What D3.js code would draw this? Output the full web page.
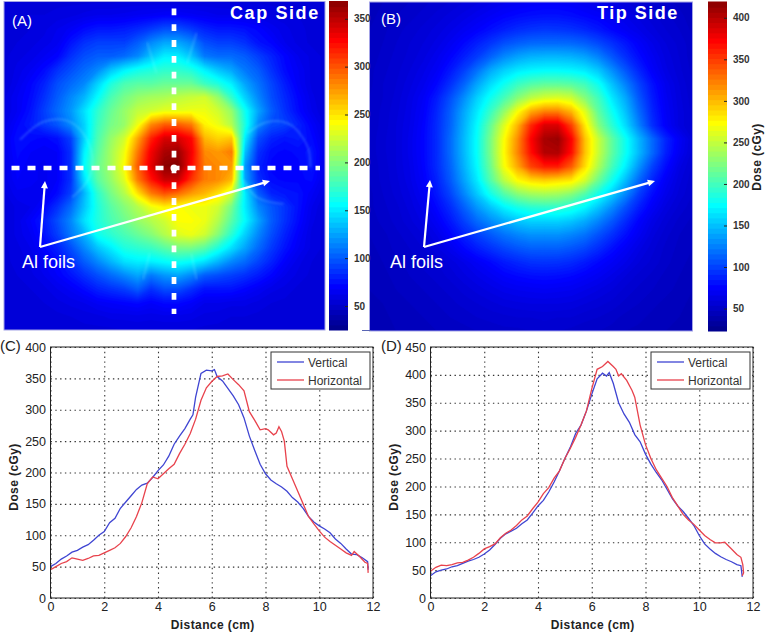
<!DOCTYPE html>
<html>
<head>
<meta charset="utf-8">
<script src="https://cdn.jsdelivr.net/npm/d3@7"></script>
<style>
  html, body { margin: 0; padding: 0; background: #fff; }
  svg { display: block; }
  text { font-family: "Liberation Sans", Arial, sans-serif; }
</style>
</head>
<body>
<div id="chart-area"></div>
<script>
// dose maps, 25 x 25 samples (cGy)
var capDose = [
  [55,55,55,55,55,55,55,55,55,56,56,56,56,56,56,56,56,55,55,55,55,55,55,55,55],
  [55,55,56,56,57,58,60,62,62,63,65,66,68,68,66,64,62,62,61,60,58,57,56,55,55],
  [55,55,56,58,62,66,72,76,76,78,82,88,95,95,88,80,76,76,74,70,64,60,57,55,55],
  [55,56,58,60,64,75,85,90,90,90,100,115,125,125,115,95,90,90,85,75,70,62,58,55,55],
  [55,58,60,65,70,85,95,100,100,105,115,135,150,150,135,110,105,105,100,90,80,70,62,58,55],
  [55,60,65,72,85,95,105,115,135,150,160,165,170,170,165,150,135,125,110,100,85,72,65,58,55],
  [55,62,70,80,95,105,115,140,165,180,185,185,190,190,190,175,165,150,125,108,92,78,66,58,55],
  [58,65,72,85,100,115,130,155,180,195,205,210,212,218,222,225,205,172,140,115,95,82,70,60,55],
  [58,65,75,90,105,120,145,170,190,205,220,225,232,232,235,235,225,205,160,125,100,85,72,62,55],
  [60,70,78,88,98,115,140,175,195,205,235,280,295,295,285,245,235,215,165,115,95,90,80,68,58],
  [62,74,72,70,74,90,140,180,205,225,270,315,340,340,325,265,255,260,150,95,80,75,78,72,60],
  [62,72,68,66,68,85,150,185,210,235,285,330,355,360,330,280,275,285,135,85,72,70,72,76,62],
  [60,70,66,64,68,85,155,190,210,240,295,335,365,368,325,285,280,275,122,80,70,68,70,76,60],
  [60,68,66,64,68,85,145,185,205,230,285,320,345,345,310,285,280,265,125,85,72,70,70,72,60],
  [58,64,64,64,72,90,130,170,195,215,250,285,300,290,275,265,250,225,150,100,80,76,74,66,58],
  [55,60,62,70,85,105,135,165,185,200,215,235,245,240,235,235,225,195,150,115,98,86,74,62,55],
  [55,60,68,78,95,115,145,165,180,192,205,215,225,240,240,235,215,185,155,125,100,85,72,60,55],
  [55,60,65,75,90,110,130,160,170,180,190,200,215,230,235,225,200,170,140,115,95,80,68,58,55],
  [55,58,62,70,80,95,115,135,150,165,170,175,185,195,195,185,165,145,125,105,88,75,65,58,55],
  [55,57,60,65,72,85,100,115,130,145,150,150,155,160,155,145,130,115,105,92,80,68,60,56,55],
  [55,56,58,62,68,75,85,95,105,115,125,110,120,125,115,100,95,90,85,78,70,62,58,55,54],
  [54,55,56,58,62,66,72,80,85,90,100,85,95,95,85,75,75,75,70,65,60,58,55,54,54],
  [54,54,55,56,58,60,62,66,68,70,72,68,72,72,68,62,62,60,60,58,56,55,54,54,54],
  [54,54,54,55,55,56,57,58,60,60,61,60,61,61,60,58,57,56,56,55,55,54,54,54,54],
  [53,53,54,54,54,54,55,55,55,56,56,56,56,56,56,55,55,55,54,54,54,54,54,53,53]
].flat();

var tipDose = [
  [44,46,47,49,51,53,55,58,60,63,66,68,70,71,71,70,67,64,62,58,55,53,50,48,46],
  [45,47,49,51,53,56,59,62,66,70,74,77,79,80,80,78,75,72,68,64,60,56,53,50,47],
  [46,48,51,53,56,59,63,68,73,79,85,90,93,95,94,92,88,82,75,69,64,59,55,52,48],
  [47,49,52,55,58,62,68,76,85,94,104,110,114,115,115,114,110,102,92,82,72,64,58,54,50],
  [47,50,53,56,60,66,74,85,97,112,127,137,143,145,145,143,137,125,108,92,78,68,60,55,50],
  [48,51,54,58,63,70,82,98,118,140,155,165,170,172,172,170,165,152,130,108,88,72,62,56,51],
  [48,52,55,60,66,76,92,112,138,160,178,195,205,210,210,207,198,178,150,125,100,80,66,58,52],
  [49,52,56,62,70,84,104,128,155,178,200,225,245,255,258,252,225,198,165,140,108,84,68,59,53],
  [49,53,57,63,72,88,110,138,165,195,230,270,305,320,320,300,260,210,178,150,116,88,70,60,54],
  [50,53,58,64,74,90,112,142,172,212,258,300,355,385,385,345,280,225,190,160,125,92,72,60,54],
  [50,54,58,65,75,90,115,145,175,220,270,315,370,405,410,370,295,250,210,178,145,115,88,70,57],
  [50,54,58,65,75,90,115,145,175,220,272,318,365,400,402,365,295,250,210,178,146,115,86,68,56],
  [50,53,58,64,74,90,112,142,172,215,268,305,345,360,360,335,285,240,200,168,132,100,78,62,54],
  [49,53,57,63,72,86,108,136,165,205,245,272,285,290,285,280,255,215,180,148,115,88,70,59,53],
  [48,52,56,61,69,82,100,125,152,180,205,225,235,238,235,225,205,180,155,128,98,78,65,57,52],
  [48,51,54,59,65,76,90,110,132,150,168,180,188,190,190,183,170,150,128,105,85,70,60,54,50],
  [47,50,53,57,62,70,82,98,115,128,140,150,155,155,155,150,140,125,108,90,74,63,56,51,48],
  [46,48,51,54,58,64,74,86,98,108,118,125,130,130,130,125,118,105,92,79,68,59,53,49,47],
  [45,47,50,52,55,60,66,75,84,92,100,106,110,110,110,106,100,90,79,70,62,56,51,48,46],
  [44,46,48,50,53,55,59,64,70,76,83,88,92,93,92,89,83,76,70,64,58,54,50,47,45],
  [43,45,47,49,51,53,56,60,64,68,73,76,78,79,78,76,72,68,63,58,54,51,48,46,44],
  [43,44,46,47,49,51,53,56,59,62,65,67,68,69,68,67,64,61,58,54,51,49,47,45,43],
  [42,43,45,46,47,49,51,53,55,57,59,60,61,61,61,60,58,56,54,51,49,47,45,44,42],
  [41,42,44,45,46,47,49,50,52,53,54,55,55,56,55,55,53,52,50,48,47,45,44,43,41],
  [40,41,43,44,45,46,47,48,49,50,51,51,52,52,52,51,50,49,48,46,45,44,43,42,40]
].flat();

// faint ridges round the foils on the cap side, [column, row] in the same grid
var capRidges = [
  [[1.2,10.1],[2.9,8.8],[4.7,8.7],[5.9,9.6],[6.6,11.4],[6.3,13],[5.1,14.3]],
  [[18.2,9.6],[19.7,8.8],[21.4,9],[22.7,10.6],[22.9,12.1]],
  [[17.9,13],[18.9,14.3],[20.9,14.8]],
  [[10.7,3],[11.4,5.2]],
  [[14.4,2.3],[13.7,4.5]],
  [[10.4,20.3],[10.9,18.4]],
  [[14.4,20.3],[14,18.4]]
];

var capDomain = [25, 368];
var tipDomain = [23, 419];
var capBarTicks = [50, 100, 150, 200, 250, 300, 350];
var tipBarTicks = [50, 100, 150, 200, 250, 300, 350, 400];

// profiles, panel C
var cVertX = [0,.2,.4,.6,.8,1,1.2,1.4,1.6,1.8,2,2.2,2.4,2.6,2.8,3,3.2,3.4,3.6,3.8,4,4.2,4.4,4.6,4.8,5,5.2,5.3,5.4,5.6,5.8,6,6.1,6.2,6.4,6.6,6.8,7,7.2,7.4,7.6,7.8,8,8.2,8.4,8.6,8.8,9,9.2,9.4,9.6,9.8,10,10.2,10.4,10.6,10.8,11,11.2,11.4,11.6,11.8,11.82];
var cVertY = [50,55,62,67,73,76,81,85,92,100,106,120,127,143,153,163,173,180,183,192,203,212,226,245,258,270,285,292,320,358,363,362,364,353,346,334,322,308,287,258,235,213,198,188,182,177,170,160,153,143,130,121,115,110,104,94,87,78,70,69,64,58,45];
var cHorzX = [0,.2,.4,.6,.8,1,1.2,1.4,1.6,1.8,2,2.2,2.4,2.6,2.8,3,3.2,3.4,3.6,3.8,4,4.2,4.4,4.6,4.8,5,5.2,5.4,5.6,5.8,6,6.2,6.4,6.6,6.8,7,7.2,7.4,7.6,7.8,8,8.1,8.3,8.4,8.5,8.6,8.7,8.8,9,9.2,9.4,9.6,9.8,10,10.2,10.4,10.6,10.8,11,11.2,11.3,11.5,11.7,11.8,11.82];
var cHorzY = [45,50,55,58,64,62,60,63,67,68,72,76,80,87,98,112,130,152,182,193,190,198,206,213,230,245,262,285,315,335,345,353,354,357,348,340,330,297,283,268,270,268,260,263,273,265,250,210,190,170,150,130,118,107,97,90,84,78,72,68,74,66,57,55,40];

// profiles, panel D
var dVertX = [0,.2,.4,.6,.8,1,1.2,1.4,1.6,1.8,2,2.2,2.4,2.6,2.8,3,3.2,3.4,3.6,3.8,4,4.2,4.4,4.6,4.8,5,5.2,5.4,5.6,5.8,6,6.2,6.4,6.55,6.65,6.8,7,7.2,7.4,7.6,7.8,8,8.2,8.4,8.6,8.8,9,9.2,9.4,9.6,9.8,10,10.2,10.4,10.6,10.8,11,11.2,11.4,11.55,11.6];
var dVertY = [40,47,50,52,56,58,62,66,69,73,79,86,96,107,115,120,125,133,140,152,165,175,190,208,228,250,270,295,310,335,365,393,403,398,404,385,350,330,315,293,280,258,240,225,212,195,178,165,155,143,130,112,97,88,80,74,69,65,60,58,38];
var dHorzX = [0,.2,.4,.6,.8,1,1.2,1.4,1.6,1.8,2,2.2,2.4,2.6,2.8,3,3.2,3.4,3.6,3.8,4,4.2,4.4,4.6,4.8,5,5.2,5.4,5.6,5.8,6,6.2,6.4,6.6,6.8,6.9,7,7.1,7.3,7.5,7.6,7.8,8,8.2,8.4,8.6,8.8,9,9.2,9.4,9.6,9.8,10,10.2,10.4,10.6,10.8,10.95,11.2,11.4,11.55,11.62,11.65,11.6];
var dHorzY = [48,55,59,58,60,63,64,68,73,80,88,92,97,108,116,122,130,140,147,160,172,187,198,215,228,250,268,288,310,335,375,410,415,424,415,410,398,402,390,372,360,310,275,250,230,215,200,180,165,150,140,132,122,112,105,99,99,100,88,78,73,60,45,40];

var distTicks = [0, 2, 4, 6, 8, 10, 12];
var cDoseTicks = [0, 50, 100, 150, 200, 250, 300, 350, 400];
var dDoseTicks = [0, 50, 100, 150, 200, 250, 300, 350, 400, 450];
var seriesNames = ["Vertical", "Horizontal"];

var blueLine = "#3f45d2";
var redLine = "#e8424c";
var gridN = 25;

var svg = d3.select("#chart-area").append("svg")
	.attr("width", 765)
	.attr("height", 635);

svg.append("filter").attr("id", "soft")
	.append("feGaussianBlur").attr("stdDeviation", 1.2);

// MATLAB jet as a d3 scale over 0..1
var jet = d3.scaleLinear()
	.domain([0, .125, .375, .625, .875, 1])
	.range(["#00008f", "#0000ff", "#00ffff", "#ffff00", "#ff0000", "#800000"])
	.clamp(true);

function drawMap(id, dose, domain, left, top, w, h, ridges) {
	var colour = d3.scaleLinear().domain(domain).range([0, 1]);

	var px = d3.scaleLinear().domain([0.5, gridN - 0.5]).range([left, left + w]);
	var py = d3.scaleLinear().domain([0.5, gridN - 0.5]).range([top, top + h]);

	svg.append("clipPath").attr("id", id)
		.append("rect").attr("x", left).attr("y", top).attr("width", w).attr("height", h);

	var g = svg.append("g").attr("clip-path", "url(#" + id + ")");

	g.append("rect")
		.attr("x", left).attr("y", top).attr("width", w).attr("height", h)
		.style("fill", jet(colour(d3.min(dose))));

	var contours = d3.contours()
		.size([gridN, gridN])
		.thresholds(d3.range(d3.min(dose), d3.max(dose), 3))(dose);

	var path = d3.geoPath(d3.geoTransform({
		point: function(x, y) { this.stream.point(px(x), py(y)); }
	}));

	g.selectAll("path.band").data(contours).enter().append("path")
		.attr("class", "band")
		.attr("d", path)
		.style("fill", function(d) { return jet(colour(d.value)); })
		.style("stroke", function(d) { return jet(colour(d.value)); })
		.style("stroke-width", 0.5);

	var ridge = d3.line()
		.x(function(d) { return px(d[0] + 0.5); })
		.y(function(d) { return py(d[1] + 0.5); })
		.curve(d3.curveCatmullRom);

	g.selectAll("path.ridge").data(ridges).enter().append("path")
		.attr("class", "ridge")
		.attr("d", ridge)
		.attr("filter", "url(#soft)")
		.style("fill", "none")
		.style("stroke", "#9ff")
		.style("stroke-opacity", 0.2)
		.style("stroke-width", 2);

	svg.append("rect")
		.attr("x", left).attr("y", top).attr("width", w).attr("height", h)
		.style("fill", "none")
		.style("stroke", "#a3a3e6")
		.style("stroke-width", 1);
}

function drawColorbar(domain, ticks, left, top, w, h) {
	var colour = d3.scaleLinear().domain(domain).range([0, 1]);
	var y = d3.scaleLinear().domain(domain).range([top + h, top]);
	var levels = d3.range(domain[0], domain[1], (domain[1] - domain[0]) / 64);
	var step = (domain[1] - domain[0]) / 64;

	svg.selectAll(null).data(levels).enter().append("rect")
		.attr("x", left)
		.attr("y", function(d) { return y(d + step) - 0.5; })
		.attr("width", w)
		.attr("height", function(d) { return y(d) - y(d + step) + 1; })
		.style("fill", function(d) { return jet(colour(d)); });

	var axis = svg.append("g")
		.attr("transform", "translate(" + (left + w) + ",0)")
		.call(d3.axisRight(y).tickValues(ticks).tickSize(-3).tickPadding(6));
	axis.select(".domain").remove();
	axis.selectAll("line").style("stroke", "#222");
	axis.selectAll("text")
		.style("font-size", "10px")
		.style("font-weight", "bold")
		.style("fill", "#333");
}

function drawArrow(x1, y1, x2, y2) {
	var a = Math.atan2(y2 - y1, x2 - x1);
	var size = 8;
	svg.append("line")
		.attr("x1", x1).attr("y1", y1)
		.attr("x2", x2 - Math.cos(a) * 4).attr("y2", y2 - Math.sin(a) * 4)
		.style("stroke", "#fff").style("stroke-width", 2.2);
	svg.append("path")
		.attr("d", d3.line()([
			[x2, y2],
			[x2 - size * Math.cos(a - .45), y2 - size * Math.sin(a - .45)],
			[x2 - size * Math.cos(a + .45), y2 - size * Math.sin(a + .45)]
		]) + "Z")
		.style("fill", "#fff");
}

function drawProfile(left, doseMax, doseTicks, series) {
	var top = 347, bottom = 598, w = 322.5;

	var x = d3.scaleLinear().domain([0, 12]).range([left, left + w]);
	var y = d3.scaleLinear().domain([0, doseMax]).range([bottom, top]);

	var xAxis = svg.append("g")
		.attr("transform", "translate(0," + bottom + ")")
		.call(d3.axisBottom(x).tickValues(distTicks).tickSize(-(bottom - top)).tickPadding(4));
	var yAxis = svg.append("g")
		.attr("transform", "translate(" + left + ",0)")
		.call(d3.axisLeft(y).tickValues(doseTicks).tickSize(-w).tickPadding(4.5));

	[xAxis, yAxis].forEach(function(a) {
		a.select(".domain").remove();
		a.selectAll("line")
			.style("stroke", "#333")
			.style("stroke-width", 1.1)
			.style("stroke-dasharray", "1.4,3.4");
		a.selectAll("text")
			.style("font-size", "12.5px")
			.style("fill", "#222");
	});

	var line = d3.line()
		.x(function(d) { return x(d[0]); })
		.y(function(d) { return y(d[1]); });

	series.forEach(function(s) {
		svg.append("path")
			.attr("d", line(d3.zip(s.xs, s.ys)))
			.style("fill", "none")
			.style("stroke", s.colour)
			.style("stroke-width", 1.3);
	});

	svg.append("rect")
		.attr("x", left).attr("y", top).attr("width", w).attr("height", bottom - top)
		.style("fill", "none").style("stroke", "#222").style("stroke-width", 1);

	svg.append("text")
		.attr("x", left + w / 2 + 1).attr("y", 629)
		.attr("text-anchor", "middle")
		.style("font-size", "12px").style("font-weight", "bold")
		.style("letter-spacing", "0.4px").style("fill", "#222")
		.text("Distance (cm)");

	svg.append("text")
		.attr("transform", "translate(" + (left - 33) + ",477) rotate(-90)")
		.attr("text-anchor", "middle")
		.style("font-size", "12px").style("font-weight", "bold")
		.style("letter-spacing", "0.4px").style("fill", "#222")
		.text("Dose (cGy)");

	// legend
	var lx = left + w - 102, ly = 352;
	svg.append("rect")
		.attr("x", lx).attr("y", ly).attr("width", 99).attr("height", 37)
		.style("fill", "#fff").style("stroke", "#333").style("stroke-width", 1);
	series.forEach(function(s, i) {
		svg.append("line")
			.attr("x1", lx + 6).attr("x2", lx + 33)
			.attr("y1", ly + 10 + i * 18).attr("y2", ly + 10 + i * 18)
			.style("stroke", s.colour).style("stroke-width", 1.3);
		svg.append("text")
			.attr("x", lx + 37).attr("y", ly + 14.5 + i * 18)
			.style("font-size", "12px").style("fill", "#333")
			.text(seriesNames[i]);
	});
}

function label(x, y, txt, size, weight, fill, spacing) {
	svg.append("text")
		.attr("x", x).attr("y", y)
		.style("font-size", size + "px")
		.style("font-weight", weight)
		.style("letter-spacing", spacing + "px")
		.style("fill", fill)
		.text(txt);
}

drawMap("clip-a", capDose, capDomain, 4, 1.5, 321, 328.5, capRidges);
drawMap("clip-b", tipDose, tipDomain, 369.5, 2, 323, 329, []);
drawColorbar(capDomain, capBarTicks, 329, 1.5, 19, 328.5);
drawColorbar(tipDomain, tipBarTicks, 708, 2, 19, 329);

// stray rule between the two map panels
svg.append("line")
	.attr("x1", 362).attr("x2", 371).attr("y1", 330.5).attr("y2", 330.5)
	.style("stroke", "#5a66b4").style("stroke-width", 1);

// profile cross hairs on panel A
svg.append("line")
	.attr("x1", 174).attr("x2", 174).attr("y1", 8.5).attr("y2", 314)
	.style("stroke", "#fff").style("stroke-width", 4.7)
	.style("stroke-dasharray", "6.8,9");
svg.append("line")
	.attr("x1", 11.5).attr("x2", 320).attr("y1", 168).attr("y2", 168)
	.style("stroke", "#fff").style("stroke-width", 4.7)
	.style("stroke-dasharray", "8,8");
svg.append("circle")
	.attr("cx", 174).attr("cy", 168).attr("r", 3.5)
	.style("fill", "#fff");

drawArrow(40, 247, 45, 181);
drawArrow(40, 247, 270, 181);
drawArrow(424, 247, 430, 180);
drawArrow(424, 247, 655, 181);

label(12, 26, "(A)", 15, "normal", "#fff", 0);
label(381, 24, "(B)", 15, "normal", "#fff", 0);
label(230, 19, "Cap Side", 18, "bold", "#fff", 1.6);
label(597, 19, "Tip Side", 18, "bold", "#fff", 1.5);
label(22, 268, "Al foils", 18, "normal", "#fff", 0);
label(390, 268, "Al foils", 18, "normal", "#fff", 0);

svg.append("text")
	.attr("transform", "translate(761,157) rotate(-90)")
	.attr("text-anchor", "middle")
	.style("font-size", "12px").style("font-weight", "bold")
	.style("letter-spacing", "0.4px").style("fill", "#222")
	.text("Dose (cGy)");

drawProfile(50.5, 400, cDoseTicks, [
	{ xs: cVertX, ys: cVertY, colour: blueLine },
	{ xs: cHorzX, ys: cHorzY, colour: redLine }
]);
drawProfile(430.5, 450, dDoseTicks, [
	{ xs: dVertX, ys: dVertY, colour: blueLine },
	{ xs: dHorzX, ys: dHorzY, colour: redLine }
]);

label(0, 351, "(C)", 15, "normal", "#222", 0);
label(381, 351, "(D)", 15, "normal", "#222", 0);
</script>
</body>
</html>
